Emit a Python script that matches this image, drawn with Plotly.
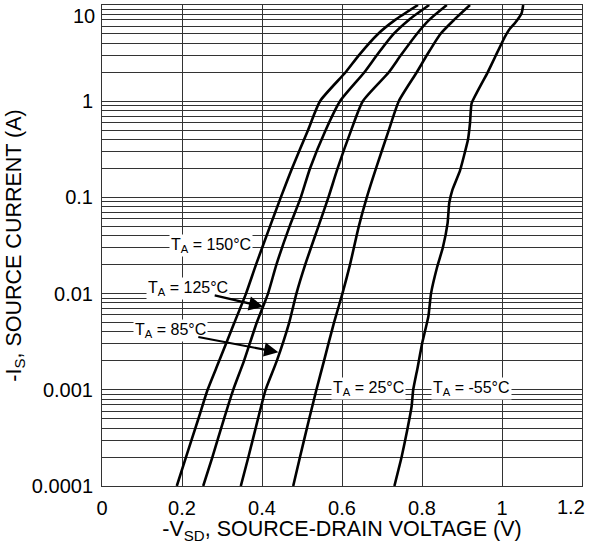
import plotly.graph_objects as go

# ---- data ----
I_levels = [0.0001, 0.0002, 0.0005, 0.001, 0.002, 0.005, 0.01, 0.02, 0.05,
            0.1, 0.2, 0.5, 1, 2, 3, 5, 7, 10]
V_150 = [0.187, 0.210, 0.241, 0.264, 0.293, 0.331, 0.360, 0.385, 0.420,
         0.447, 0.475, 0.515, 0.545, 0.609, 0.642, 0.690, 0.733, 0.790]
V_125 = [0.253, 0.276, 0.305, 0.328, 0.355, 0.387, 0.415, 0.436, 0.469,
         0.497, 0.520, 0.559, 0.595, 0.656, 0.687, 0.729, 0.767, 0.818]
V_85 = [0.347, 0.366, 0.390, 0.409, 0.437, 0.468, 0.486, 0.508, 0.541,
        0.566, 0.589, 0.623, 0.652, 0.717, 0.747, 0.787, 0.818, 0.862]
V_25 = [0.478, 0.495, 0.518, 0.536, 0.555, 0.580, 0.601, 0.620, 0.642,
        0.662, 0.685, 0.717, 0.742, 0.787, 0.812, 0.846, 0.880, 0.920]
I_m55 = [0.0001, 0.0002, 0.00038, 0.00067, 0.001, 0.0017, 0.003, 0.0058, 0.01,
         0.019, 0.03, 0.054, 0.087, 0.12, 0.19, 0.4, 0.59, 0.95, 1.95, 2.9,
         4.7, 5.7, 6.5, 8.2, 10]
V_m55 = [0.731, 0.749, 0.763, 0.774, 0.778, 0.789, 0.800, 0.816, 0.8225,
         0.838, 0.852, 0.864, 0.868, 0.876, 0.895, 0.915, 0.920, 0.924, 0.963, 0.983,
         1.0075, 1.020, 1.0325, 1.049, 1.053]

x_tickvals = [0, 0.2, 0.4, 0.6, 0.8, 1.0, 1.2]
x_ticktext = ["0", "0.2", "0.4", "0.6", "0.8", "1", ""]
y_tickvals = [0.0001, 0.001, 0.01, 0.1, 1, 10]
y_ticktext = ["0.0001", "0.001", "0.01", "0.1", "1", ""]

FONT = "Liberation Sans, Arial, sans-serif"
GRID = "#333333"

fig = go.Figure()
for v in (V_150, V_125, V_85, V_25):
    fig.add_trace(go.Scatter(x=v, y=I_levels, mode="lines",
                             line=dict(color="black", width=2.6, shape="spline", smoothing=0.6),
                             showlegend=False, hoverinfo="skip"))
fig.add_trace(go.Scatter(x=V_m55, y=I_m55, mode="lines",
                         line=dict(color="black", width=2.6, shape="spline", smoothing=0.4),
                         showlegend=False, hoverinfo="skip"))

minor_vals = [m * 10.0 ** e for e in range(-4, 1) for m in range(2, 10)]

fig.update_layout(
    width=590, height=544,
    margin=dict(l=102, r=8, t=5, b=58),
    paper_bgcolor="white", plot_bgcolor="white",
    font=dict(family=FONT, size=20, color="black"),
    xaxis=dict(range=[0, 1.2], tickvals=x_tickvals, ticktext=x_ticktext,
               automargin=False,
               showgrid=True, gridcolor=GRID, gridwidth=1,
               showline=True, linecolor=GRID, linewidth=1, mirror=True,
               ticks="", zeroline=False, ticklabelstandoff=4,
               tickfont=dict(size=20),
               title=dict(text="-V<sub>SD</sub>, SOURCE-DRAIN VOLTAGE (V)",
                          font=dict(size=21.5), standoff=5)),
    yaxis=dict(type="log", range=[-4, 1], tickvals=y_tickvals, ticktext=y_ticktext,
               automargin=False,
               showgrid=True, gridcolor=GRID, gridwidth=1,
               minor=dict(tickvals=minor_vals, showgrid=True, gridcolor=GRID, gridwidth=1, ticks=""),
               showline=True, linecolor=GRID, linewidth=1, mirror=True,
               ticks="", zeroline=False, ticklabelstandoff=4,
               tickfont=dict(size=20),
               title=dict(text="-I<sub>S</sub>, SOURCE CURRENT (A)",
                          font=dict(size=21.5), standoff=4)),
)

# edge tick labels nudged inside the page, as in the reference
fig.add_annotation(text="10", xref="paper", yref="paper", x=0, y=1, xanchor="right",
                   yanchor="top", xshift=-5, yshift=2, showarrow=False, font=dict(size=20))
fig.add_annotation(text="1.2", xref="paper", yref="paper", x=1, y=0, xanchor="right",
                   yanchor="top", xshift=5, yshift=-8, showarrow=False, font=dict(size=20))

labels = [
    ("T<sub>A</sub> = 150°C", 0.2725, -1.50),
    ("T<sub>A</sub> = 125°C", 0.215, -1.95),
    ("T<sub>A</sub> = 85°C", 0.170, -2.385),
    ("T<sub>A</sub> = 25°C", 0.666, -2.99),
    ("T<sub>A</sub> = -55°C", 0.9225, -2.99),
]
for t, x, y in labels:
    fig.add_annotation(text=t, x=x, y=y, xref="x", yref="y", showarrow=False,
                       bgcolor="white", borderpad=1, font=dict(size=16))

arrows = [
    (0.403, -2.136, 0.278, -2.015),
    (0.441, -2.610, 0.237, -2.448),
]
for hx, hy, tx, ty in arrows:
    fig.add_annotation(text="", x=hx, y=hy, ax=tx, ay=ty, xref="x", yref="y",
                       axref="x", ayref="y", showarrow=True, arrowhead=2,
                       arrowsize=1.3, arrowwidth=2.2, arrowcolor="black")

fig.write_html("out.html", config={"displayModeBar": False},
               post_script="document.body.style.margin='0';")
